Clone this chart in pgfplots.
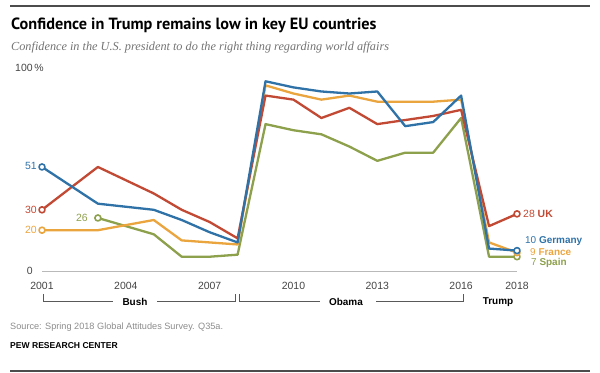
\documentclass[border=0pt]{standalone}
\usepackage{pgfplots}
\pgfplotsset{compat=1.18}
\usepackage{fontspec}
\setmainfont{Liberation Sans}
\newfontfamily\titlefont{PT Sans}
\newfontfamily\subfont{Liberation Serif}
\definecolor{ger}{HTML}{2F72A8}
\definecolor{uk}{HTML}{C24A34}
\definecolor{fra}{HTML}{EBA53F}
\definecolor{spa}{HTML}{8DA04C}
\definecolor{txt}{HTML}{444444}
\begin{document}
\begin{tikzpicture}
\path[use as bounding box] (0,0) rectangle (600bp,373bp);
\begin{axis}[
  at={(42bp,102bp)}, anchor=south west,
  scale only axis, width=475bp, height=204bp,
  xmin=2001, xmax=2018, ymin=0, ymax=100,
  clip=false,
  axis line style={draw=none},
  major tick length=0pt,
  ytick=\empty,
  xtick={2001,2004,2007,2010,2013,2016,2018},
  xticklabels={2001,2004,2007,2010,2013,2016,2018},
  xticklabel style={font=\fontsize{10.5}{12}\selectfont, text=txt, anchor=center, yshift=-15bp},
  every axis plot/.append style={line width=2.3bp, line join=round, mark=*, mark size=3bp,
     mark options={fill=white, line width=1.6bp}},
]
\draw[gray!55, line width=0.8bp] (axis cs:2001,0) -- (axis cs:2018,0);
\addplot[color=spa, mark indices={1,15}] coordinates {
(2003,26)(2005,18)(2006,7)(2007,7)(2008,8)(2009,72)(2010,69)(2011,67)(2012,61)(2013,54)(2014,58)(2015,58)(2016,75)(2017,7)(2018,7)};
\addplot[color=fra, mark indices={1,16}] coordinates {
(2001,20)(2003,20)(2005,25)(2006,15)(2007,14)(2008,13)(2009,91)(2010,87)(2011,84)(2012,86)(2013,83)(2014,83)(2015,83)(2016,84)(2017,14)(2018,9)};
\addplot[color=uk, mark indices={1,16}] coordinates {
(2001,30)(2003,51)(2005,38)(2006,30)(2007,24)(2008,16)(2009,86)(2010,84)(2011,75)(2012,80)(2013,72)(2014,74)(2015,76)(2016,79)(2017,22)(2018,28)};
\addplot[color=ger, mark indices={1,16}] coordinates {
(2001,51)(2003,33)(2005,30)(2006,25)(2007,19)(2008,14)(2009,93)(2010,90)(2011,88)(2012,87)(2013,88)(2014,71)(2015,73)(2016,86)(2017,11)(2018,10)};
\begin{scope}[every node/.style={font=\fontsize{10.5}{12}\selectfont, inner sep=0pt}]
\node[anchor=east, text=ger] at ([xshift=-5bp,yshift=1bp]axis cs:2001,51) {51};
\node[anchor=east, text=uk] at ([xshift=-5bp]axis cs:2001,30) {30};
\node[anchor=east, text=fra] at ([xshift=-5bp]axis cs:2001,20) {20};
\node[anchor=east, text=spa] at ([xshift=-10bp]axis cs:2003,26) {26};
\node[anchor=west, text=uk] at ([xshift=6bp]axis cs:2018,28) {28 \textbf{UK}};
\end{scope}
\begin{scope}[every node/.style={font=\fontsize{10}{12}\selectfont, inner sep=0pt}]
\node[anchor=west, text=ger] at ([xshift=8bp,yshift=10bp]axis cs:2018,10) {10 \textbf{Germany}};
\node[anchor=west, text=fra] at ([xshift=13bp,yshift=1bp]axis cs:2018,9) {9 \textbf{France}};
\node[anchor=west, text=spa] at ([xshift=14bp,yshift=-6.5bp]axis cs:2018,7) {7 \textbf{Spain}};
\node[anchor=east, text=txt, font=\fontsize{10.5}{12}\selectfont] at ([xshift=-9bp]axis cs:2001,0) {0};
\end{scope}
\end{axis}
\begin{scope}[x=1bp,y=-1bp,shift={(0,373bp)}]
% frame rules
\draw[color=black!70, line width=1.8bp] (10,6) -- (590,6);
\draw[color=black!70, line width=1.2bp] (10,371) -- (590,371);
% title and subtitle
\node[anchor=base west, inner sep=0pt, font=\titlefont\bfseries\fontsize{16.3}{18}\selectfont] at (11,30) {Confidence in Trump remains low in key EU countries};
\node[anchor=base west, inner sep=0pt, text=black!55, font=\subfont\itshape\fontsize{12.3}{14}\selectfont] at (11,51) {Confidence in the U.S. president to do the right thing regarding world affairs};
\node[anchor=west, inner sep=0pt, text=txt, font=\fontsize{10.5}{12}\selectfont] at (15,68) {100\,\%};
% brackets
\draw[color=black!65, line width=0.8bp] (43,294) -- (43,301) -- (113,301);
\draw[color=black!65, line width=0.8bp] (157,301) -- (235,301) -- (235,294);
\draw[color=black!65, line width=0.8bp] (239,294) -- (239,301) -- (320,301);
\draw[color=black!65, line width=0.8bp] (376,301) -- (463,301) -- (463,294);
\begin{scope}[every node/.style={inner sep=0pt, font=\bfseries\fontsize{10}{12}\selectfont}]
\node at (135,302) {Bush};
\node at (346,302) {Obama};
\node at (498,302) {Trump};
\end{scope}
\node[anchor=base west, inner sep=0pt, text=black!45, font=\fontsize{9.2}{11}\selectfont] at (10,330) {Source: Spring 2018 Global Attitudes Survey. Q35a.};
\node[anchor=base west, inner sep=0pt, font=\bfseries\fontsize{8.6}{10}\selectfont] at (10,349) {PEW RESEARCH CENTER};
\end{scope}
\end{tikzpicture}
\end{document}
